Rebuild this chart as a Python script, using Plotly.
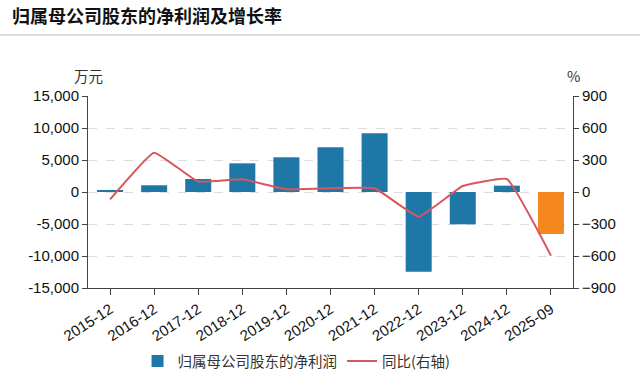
import plotly.graph_objects as go

categories = ["2015-12", "2016-12", "2017-12", "2018-12", "2019-12", "2020-12",
              "2021-12", "2022-12", "2023-12", "2024-12", "2025-09"]
net_profit = [250, 1050, 2030, 4480, 5420, 6980, 9170, -12450, -5050, 990, -6560]
yoy_pct = [-70, 369, 97, 119, 25, 35, 35, -231, 56, 122, -597]
left_ticks = [-15000, -10000, -5000, 0, 5000, 10000, 15000]
left_tick_text = ["-15,000", "-10,000", "-5,000", "0", "5,000", "10,000", "15,000"]
right_ticks = [-900, -600, -300, 0, 300, 600, 900]

bar_colors = ["#1f77a8"] * (len(categories) - 1) + ["#f5871f"]

W, H = 640, 387
L, R, T, B = 88, 67, 96, 99
PH = H - T - B

fig = go.Figure()
fig.add_trace(go.Bar(
    x=categories, y=net_profit, name="归属母公司股东的净利润",
    marker=dict(color=bar_colors, line=dict(width=0)),
    yaxis="y",
))
fig.add_trace(go.Scatter(
    x=categories, y=yoy_pct, name="同比(右轴)", mode="lines",
    line=dict(color="#d9575c", width=2, shape="spline", smoothing=0.3),
    yaxis="y2",
))

axis_font = dict(family="Liberation Sans, Arial, sans-serif", size=15, color="#111")

fig.update_layout(
    width=W, height=H,
    margin=dict(l=L, r=R, t=T, b=B, autoexpand=False),
    paper_bgcolor="white", plot_bgcolor="white",
    font=dict(family="Noto Sans CJK SC, sans-serif", size=13, color="#222"),
    bargap=0.41,
    showlegend=True,
    legend=dict(orientation="h", x=0.43, xanchor="center", y=-(361 - (H - B)) / PH,
                yanchor="middle", font=dict(size=14.5, color="#333"), itemwidth=30),
    xaxis=dict(
        type="category", showgrid=False, showline=True, linecolor="#444", linewidth=1,
        ticks="outside", ticklen=6, tickcolor="#444", tickangle=-33,
        tickfont=axis_font, zeroline=False,
    ),
    yaxis=dict(
        range=[-15000, 15000], tickvals=left_ticks, ticktext=left_tick_text,
        showline=True, linecolor="#444", linewidth=1, ticks="outside", ticklen=5,
        tickcolor="#444", tickfont=axis_font, showgrid=True, gridcolor="#dddddd",
        griddash="dash", gridwidth=1, zeroline=False,
    ),
    yaxis2=dict(
        range=[-900, 900], tickvals=right_ticks, overlaying="y", side="right",
        showline=True, linecolor="#444", linewidth=1, ticks="outside", ticklen=5,
        tickcolor="#444", tickfont=axis_font, showgrid=False, zeroline=False,
    ),
    title=dict(
        text="<b>归属母公司股东的净利润及增长率</b>",
        x=12 / W, xanchor="left", xref="container", y=1 - 17 / H, yanchor="middle",
        yref="container",
        font=dict(family="Noto Sans CJK SC, sans-serif", size=18, color="#111"),
    ),
)

fig.add_annotation(text="万元", xref="paper", yref="paper", x=0, y=1 + (T - 76) / PH,
                   xanchor="center", yanchor="middle", showarrow=False,
                   font=dict(size=14.5, color="#333"))
fig.add_annotation(text="%", xref="paper", yref="paper", x=1, y=1 + (T - 75) / PH,
                   xanchor="center", yanchor="middle", showarrow=False,
                   font=dict(size=14.5, color="#333"))
fig.add_shape(type="line", xref="paper", yref="paper",
              x0=-L / (W - L - R), x1=(W - L) / (W - L - R),
              y0=1 + (T - 35) / PH, y1=1 + (T - 35) / PH,
              line=dict(color="#cfcfcf", width=1.5))

fig.write_html("out.html", config={"displayModeBar": False},
               post_script="document.body.style.margin='0';")
